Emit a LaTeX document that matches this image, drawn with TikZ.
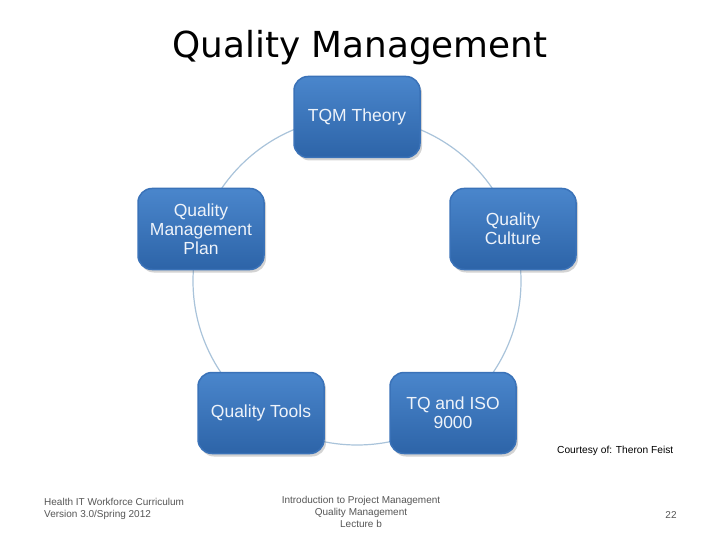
\documentclass[tikz,border=0pt]{standalone}
\usepackage{fontspec}
\setmainfont{Liberation Sans}
\newfontfamily\titlefont{DejaVu Sans}
\usetikzlibrary{shadows}
\definecolor{boxtop}{HTML}{4A86CC}
\definecolor{boxbot}{HTML}{2D64A8}
\definecolor{boxedge}{HTML}{3A72B8}
\definecolor{ringcol}{HTML}{A9C3DA}
\definecolor{foot}{HTML}{555555}
\definecolor{boxtext}{HTML}{EEF3FA}
\tikzset{
  bluebox/.style={draw=boxedge, line width=1.5pt, rounded corners=14pt,
    top color=boxtop, bottom color=boxbot, minimum width=126pt, minimum height=81pt,
    text=boxtext, align=center, font=\fontsize{17.5}{19}\selectfont,
    drop shadow={shadow xshift=2pt, shadow yshift=-3pt, opacity=0.35}},
  footnote/.style={text=foot, font=\fontsize{10}{12}\selectfont, inner sep=0pt}
}
\begin{document}
\begin{tikzpicture}[x=1pt,y=-1pt]
\useasboundingbox (0,0) rectangle (720,540);
\node[font=\titlefont\fontsize{35.8}{40}\selectfont, inner sep=0pt] (title) at (360,48) {Quality Management};
\coordinate (ctr) at (357,281);
\draw[ringcol, line width=1.2pt] (ctr) circle[radius=164];
\node[bluebox] (tqm) at (357,117) {TQM Theory};
\node[bluebox] (cult) at (513,229) {Quality\\Culture};
\node[bluebox] (plan) at (201,229) {Quality\\Management\\Plan};
\node[bluebox] (tools) at (261,413) {Quality Tools};
\node[bluebox] (iso) at (453,413) {TQ and ISO\\9000};
\node[anchor=west, inner sep=0pt, font=\fontsize{10.2}{12}\selectfont] (court) at (557,451) {Courtesy of: Theron Feist};
\node[footnote, anchor=north west, align=left] (left) at (44,498) {Health IT Workforce Curriculum\\Version 3.0/Spring 2012};
\node[footnote, anchor=north, align=center] (mid) at (361,496) {Introduction to Project Management\\Quality Management\\Lecture b};
\node[footnote] (page) at (671,515) {22};
\end{tikzpicture}
\end{document}
